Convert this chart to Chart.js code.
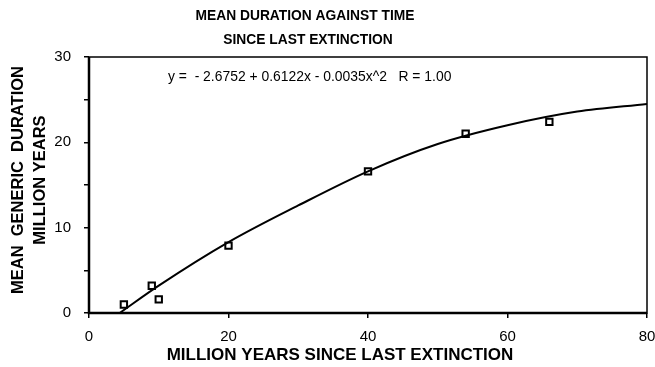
<!DOCTYPE html>
<html>
<head>
<meta charset="utf-8">
<script src="https://cdn.jsdelivr.net/npm/chart.js@4"></script>
<style>
  html, body { margin: 0; padding: 0; background: #fff; }
  #wrap { width: 655px; height: 367px; }
</style>
</head>
<body>
<div id="wrap"><canvas id="durChart" width="655" height="367"></canvas></div>
<script>
// observed means (million years since last extinction -> mean generic duration)
const obsX = [5, 9, 10, 20, 40, 54, 66];
const obsY = [1.0, 3.2, 1.6, 7.9, 16.6, 21.0, 22.4];

// fitted curve
const fitX = [4.4, 10, 20, 30, 40, 50, 60, 70, 80];
const fitY = [0, 3.2, 8.3, 12.6, 16.6, 19.8, 22.0, 23.6, 24.5];

const titleLines = ['MEAN DURATION AGAINST TIME', 'SINCE LAST EXTINCTION'];
const yTitleLines = ['MEAN  GENERIC  DURATION', 'MILLION YEARS'];
const xTitle = 'MILLION YEARS SINCE LAST EXTINCTION';
const equation = 'y =  - 2.6752 + 0.6122x - 0.0035x^2   R = 1.00';

const sans = '"Liberation Sans", Arial, Helvetica, sans-serif';

// titles, equation and frame drawn on top of the chart
const decor = {
    id: 'decor',
    afterDraw(chart) {
        const ctx = chart.ctx;
        const a = chart.chartArea;
        ctx.save();
        ctx.strokeStyle = '#000';
        ctx.lineWidth = 1.5;
        ctx.strokeRect(a.left, a.top, a.right - a.left, a.bottom - a.top);
        ctx.lineWidth = 2.5;
        ctx.beginPath();
        ctx.moveTo(a.left, a.top);
        ctx.lineTo(a.left, a.bottom);
        ctx.lineTo(a.right, a.bottom);
        ctx.stroke();

        ctx.fillStyle = '#000';
        ctx.textBaseline = 'middle';
        ctx.textAlign = 'center';
        ctx.font = 'bold 13.8px ' + sans;
        ctx.fillText(titleLines[0], 305, 16);
        ctx.fillText(titleLines[1], 308, 40);

        ctx.font = 'bold 17px ' + sans;
        ctx.fillText(xTitle, 340, 355);

        ctx.font = 'bold 16.5px ' + sans;
        ctx.save();
        ctx.translate(18, 180);
        ctx.rotate(-Math.PI / 2);
        ctx.fillText(yTitleLines[0], 0, 0);
        ctx.restore();
        ctx.save();
        ctx.translate(40, 180);
        ctx.rotate(-Math.PI / 2);
        ctx.fillText(yTitleLines[1], 0, 0);
        ctx.restore();

        ctx.textAlign = 'left';
        ctx.font = '13.9px ' + sans;
        ctx.fillText(equation, 168, 77);
        ctx.restore();
    }
};

new Chart(document.getElementById('durChart'), {
    type: 'scatter',
    data: {
        datasets: [
            {
                label: 'fit',
                data: fitX.map((x, i) => ({ x: x, y: fitY[i] })),
                showLine: true,
                borderColor: '#000',
                borderWidth: 2,
                pointRadius: 0,
                cubicInterpolationMode: 'monotone'
            },
            {
                label: 'observed',
                data: obsX.map((x, i) => ({ x: x, y: obsY[i] })),
                pointStyle: 'rect',
                pointRadius: 4.5,
                pointBorderWidth: 2,
                pointBorderColor: '#000',
                pointBackgroundColor: '#fff'
            },
            {
                label: 'centres',
                data: obsX.map((x, i) => ({ x: x, y: obsY[i] })),
                pointStyle: 'circle',
                pointRadius: 1,
                pointBorderWidth: 0,
                pointBackgroundColor: '#000'
            }
        ]
    },
    options: {
        responsive: false,
        animation: false,
        layout: { padding: { top: 57, right: 8, left: 0, bottom: 0 } },
        plugins: {
            legend: { display: false },
            tooltip: { enabled: false }
        },
        scales: {
            x: {
                type: 'linear',
                min: 0,
                max: 80,
                afterFit(scale) {
                    scale.height = 54;
                    scale.paddingRight = 0;
                    scale.paddingLeft = 0;
                },
                border: { display: false },
                grid: { drawOnChartArea: false, drawTicks: true, tickLength: 5, color: '#000', lineWidth: 1.5 },
                ticks: {
                    stepSize: 20,
                    color: '#000',
                    padding: 10,
                    font: { size: 15, family: sans }
                }
            },
            y: {
                min: 0,
                max: 30,
                afterFit(scale) { scale.width = 89; },
                border: { display: false },
                grid: { drawOnChartArea: false, drawTicks: true, tickLength: 5, color: '#000', lineWidth: 1.5 },
                ticks: {
                    stepSize: 5,
                    color: '#000',
                    padding: 13,
                    font: { size: 15, family: sans },
                    callback: v => (v % 10 === 0 ? v : '')
                }
            }
        }
    },
    plugins: [decor]
});
</script>
</body>
</html>
